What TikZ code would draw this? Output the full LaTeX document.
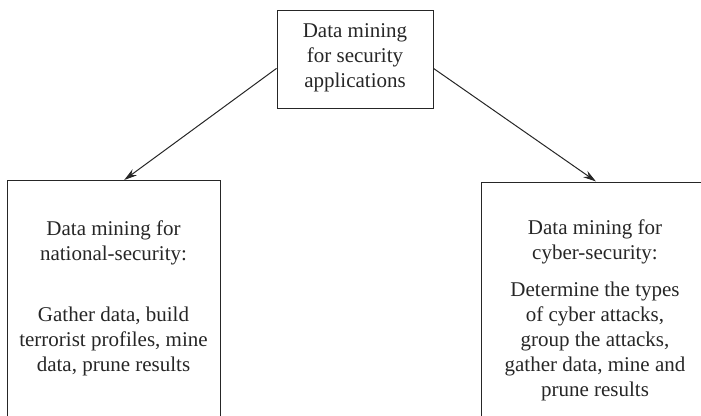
\documentclass[tikz,border=0pt]{standalone}
\usepackage{fontspec}
\setmainfont{Liberation Serif}
\usetikzlibrary{arrows.meta,calc}
\begin{document}
\begin{tikzpicture}[x=1pt,y=-1pt,
  boxstyle/.style={draw=black!85,line width=1pt,rectangle,inner sep=0pt},
  txt/.style={align=center,inner sep=0pt,anchor=base,text=black!85,font=\fontsize{21}{25}\selectfont},
  conn/.style={draw=black!85,line width=1pt,-{Stealth[length=13pt,width=7.5pt]}}]
\useasboundingbox (0,0) rectangle (701,415);
\clip (0,0) rectangle (701,415);
\node[boxstyle,minimum width=156pt,minimum height=98pt] (top) at (355,59) {};
\node[boxstyle,minimum width=213pt,minimum height=260pt] (lbox) at (113.5,310.5) {};
\node[boxstyle,minimum width=230pt,minimum height=260pt] (rbox) at (596,312) {};
\node[txt] (ttop) at (355,87.3) {Data mining\\for security\\applications};
\node[txt] (tl1) at (113.5,260.7) {Data mining for\\national-security:};
\node[txt] (tl2) at (113.5,371) {Gather data, build\\terrorist profiles, mine\\data, prune results};
\node[txt] (tr1) at (595,259.3) {Data mining for\\cyber-security:};
\node[txt] (tr2) at (595,396.7) {Determine the types\\of cyber attacks,\\group the attacks,\\gather data, mine and\\prune results};
\draw[conn] ($(top.north west)!0.595!(top.south west)$) -- ($(lbox.north west)!0.55!(lbox.north east)$);
\draw[conn] ($(top.north east)!0.595!(top.south east)$) -- (rbox.north);
\end{tikzpicture}
\end{document}
